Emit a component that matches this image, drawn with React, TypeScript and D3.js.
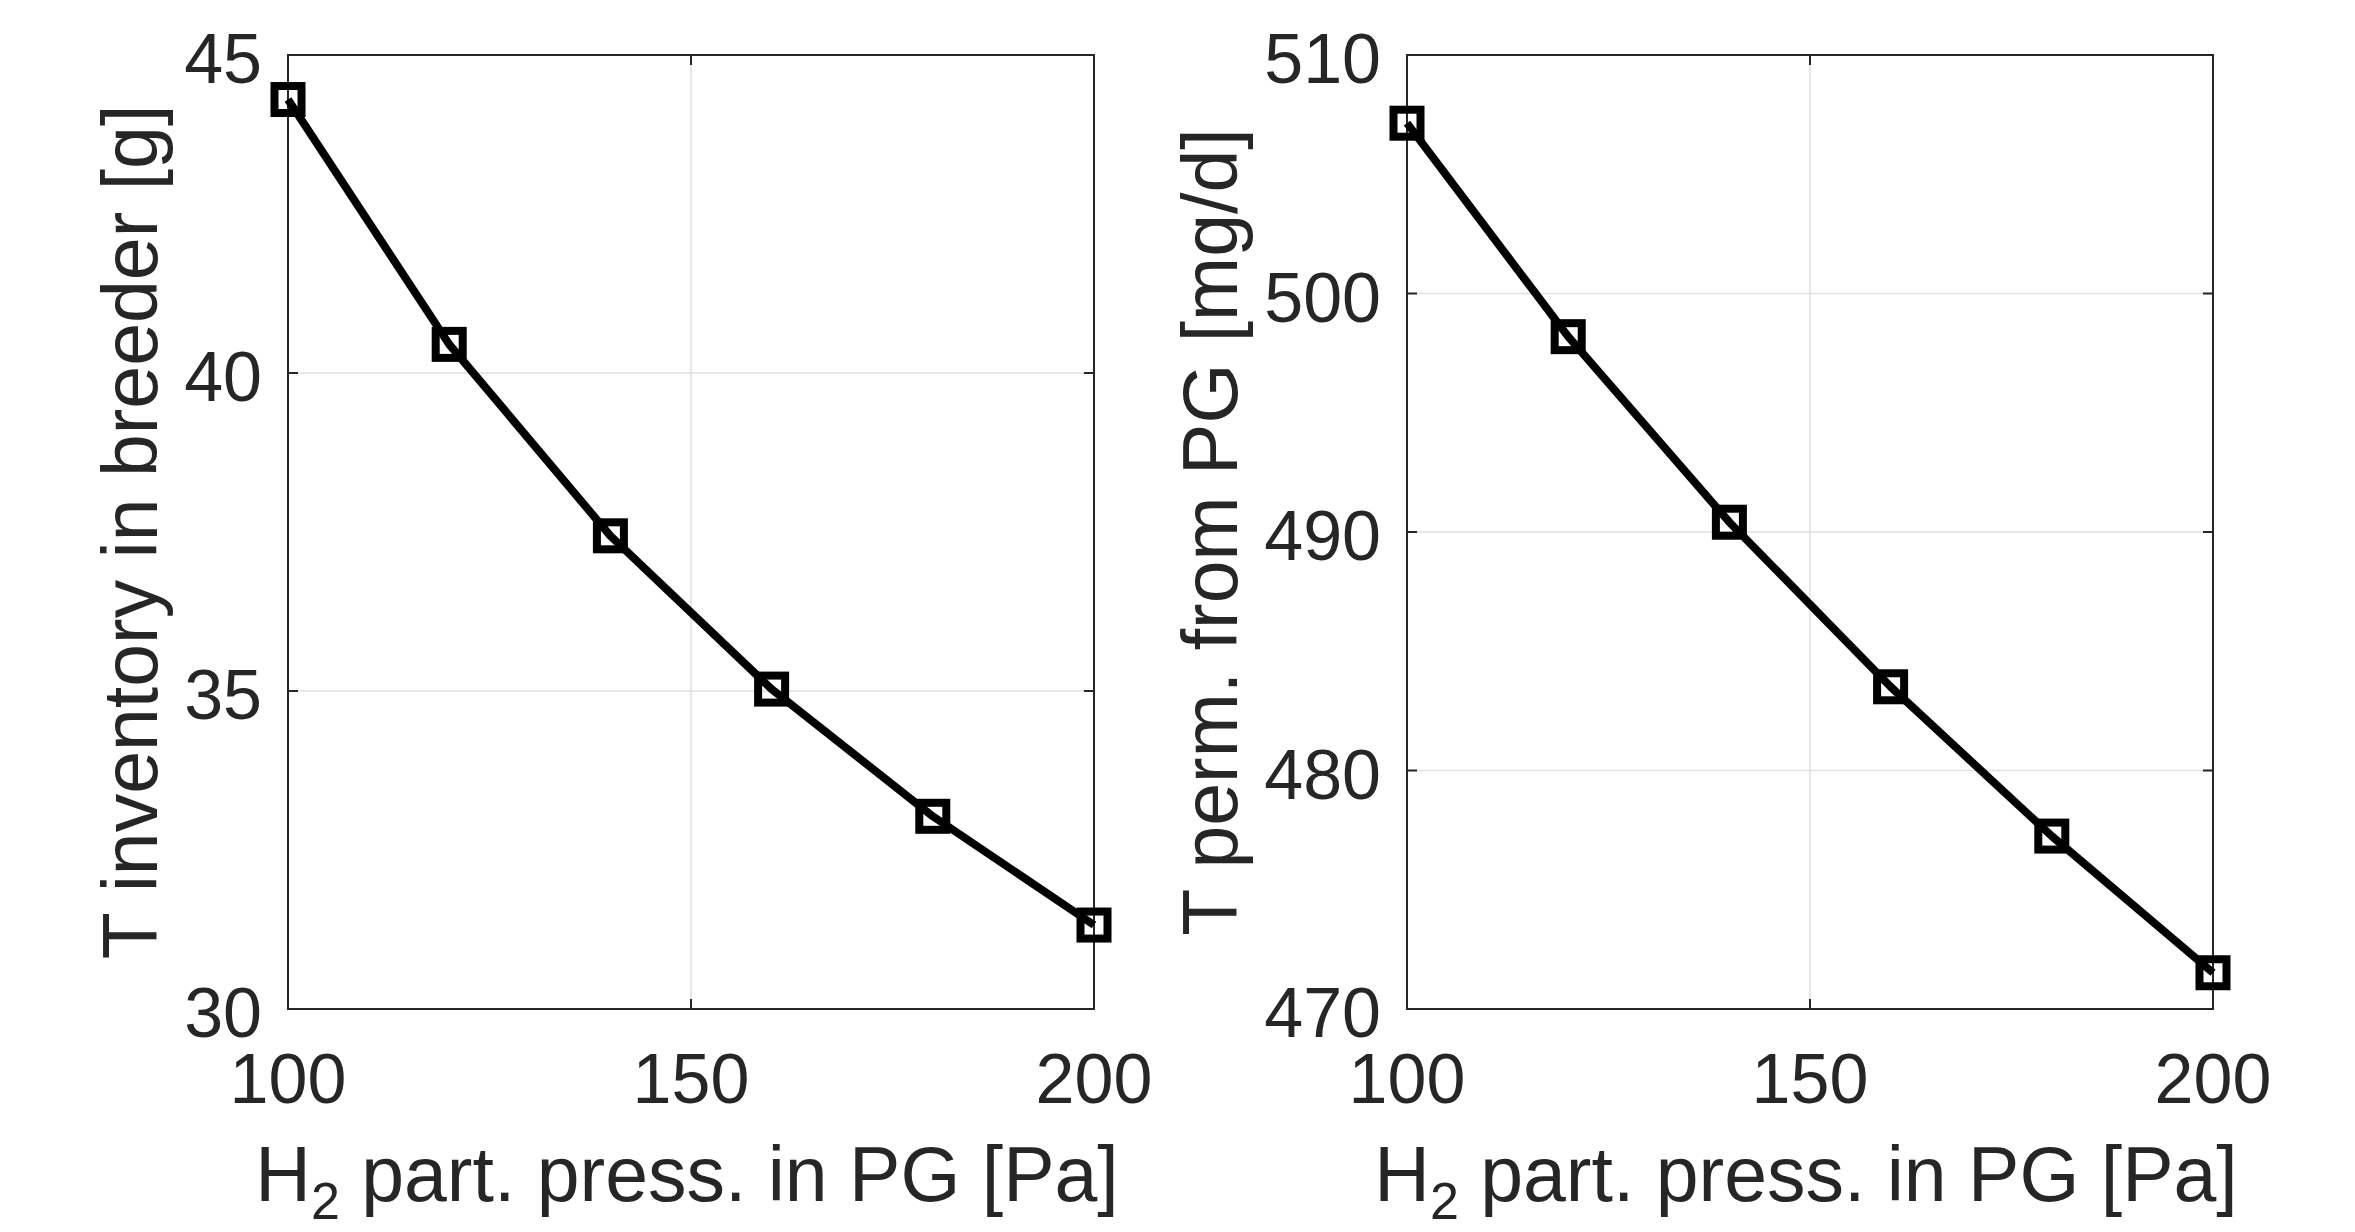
import React from 'react';
import * as d3 from 'd3';

// H2 partial pressure in purge gas [Pa]
const pressure = [100, 120, 140, 160, 180, 200];
// tritium inventory in breeder [g]
const inventory = [44.30, 40.45, 37.44, 35.03, 33.03, 31.32];
// tritium permeation from purge gas [mg/d]
const permeation = [507.14, 498.19, 490.41, 483.51, 477.25, 471.52];

const xTicks = [100, 150, 200];
const inventoryTicks = [30, 35, 40, 45];
const permeationTicks = [470, 480, 490, 500, 510];

const W = 2355;
const H = 1232;
const FONT = '"Liberation Sans", Arial, Helvetica, sans-serif';
const INK = '#262626';

type PanelProps = {
  x0: number;
  x1: number;
  yDomain: [number, number];
  yTicks: number[];
  values: number[];
  yLabel: string;
  yLabelX: number;
};

const Panel = ({ x0, x1, yDomain, yTicks, values, yLabel, yLabelX }: PanelProps) => {
  const top = 55;
  const bottom = 1009;
  const x = d3.scaleLinear().domain([100, 200]).range([x0, x1]);
  const y = d3.scaleLinear().domain(yDomain).range([bottom, top]);
  const pts: [number, number][] = pressure.map((p, i) => [x(p), y(values[i])]);
  const line = d3.line()(pts) || '';
  const tickLen = 10;
  const mk = 27;
  const midX = (x0 + x1) / 2 - 4;
  const midY = (top + bottom) / 2;

  return (
    <g>
      {/* grid */}
      {xTicks.map(t => (
        <line key={'gx' + t} x1={x(t)} x2={x(t)} y1={top} y2={bottom} stroke="#dfdfdf" strokeWidth={1.5} />
      ))}
      {yTicks.map(t => (
        <line key={'gy' + t} x1={x0} x2={x1} y1={y(t)} y2={y(t)} stroke="#dfdfdf" strokeWidth={1.5} />
      ))}
      {/* box */}
      <rect x={x0} y={top} width={x1 - x0} height={bottom - top} fill="none" stroke={INK} strokeWidth={2} />
      {/* ticks */}
      {xTicks.map(t => (
        <g key={'tx' + t}>
          <line x1={x(t)} x2={x(t)} y1={bottom} y2={bottom - tickLen} stroke={INK} strokeWidth={2} />
          <line x1={x(t)} x2={x(t)} y1={top} y2={top + tickLen} stroke={INK} strokeWidth={2} />
          <text x={x(t)} y={bottom + 94} textAnchor="middle" fontSize={70} fill={INK} fontFamily={FONT}>{t}</text>
        </g>
      ))}
      {yTicks.map(t => (
        <g key={'ty' + t}>
          <line x1={x0} x2={x0 + tickLen} y1={y(t)} y2={y(t)} stroke={INK} strokeWidth={2} />
          <line x1={x1} x2={x1 - tickLen} y1={y(t)} y2={y(t)} stroke={INK} strokeWidth={2} />
          <text x={x0 - 26} y={y(t) + 28} textAnchor="end" fontSize={70} fill={INK} fontFamily={FONT}>{t}</text>
        </g>
      ))}
      {/* data */}
      <path d={line} fill="none" stroke="#000" strokeWidth={8} strokeLinejoin="round" />
      {pts.map(([px, py], i) => (
        <rect key={'m' + i} x={px - mk / 2} y={py - mk / 2} width={mk} height={mk} fill="none" stroke="#000" strokeWidth={8} />
      ))}
      {/* labels */}
      <text x={midX} y={1201} textAnchor="middle" fontSize={77} fill={INK} fontFamily={FONT}>
        H<tspan dy={18} fontSize={52}>2</tspan><tspan dy={-18}> part. press. in PG [Pa]</tspan>
      </text>
      <text
        transform={`translate(${yLabelX},${midY}) rotate(-90)`}
        textAnchor="middle"
        fontSize={77}
        fill={INK}
        fontFamily={FONT}
      >
        {yLabel}
      </text>
    </g>
  );
};

export default function App() {
  return (
    <svg width={W} height={H} style={{ position: 'absolute', left: 0, top: 0, background: '#fff' }}>
      <rect width={W} height={H} fill="#fff" />
      <Panel
        x0={288}
        x1={1094}
        yDomain={[30, 45]}
        yTicks={inventoryTicks}
        values={inventory}
        yLabel="T inventory in breeder [g]"
        yLabelX={157}
      />
      <Panel
        x0={1407}
        x1={2213}
        yDomain={[470, 510]}
        yTicks={permeationTicks}
        values={permeation}
        yLabel="T perm. from PG [mg/d]"
        yLabelX={1237}
      />
    </svg>
  );
}
